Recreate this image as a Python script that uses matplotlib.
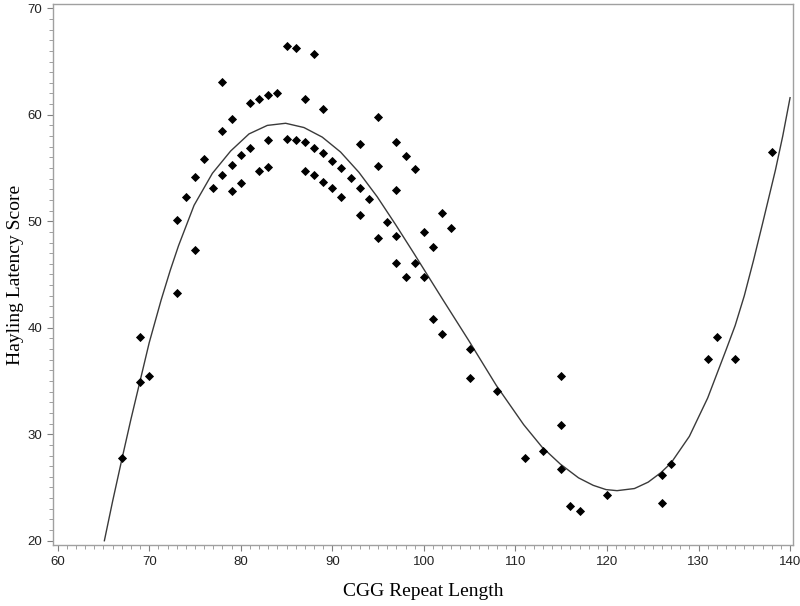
import matplotlib
matplotlib.use('Agg')
import matplotlib.pyplot as plt
import matplotlib.transforms as mtransforms
from matplotlib.ticker import MultipleLocator

# scatter points
cgg = [67, 69, 69, 70, 73, 73, 74, 75, 75, 76, 77, 78, 78, 78, 79, 79, 79,
       80, 80, 81, 81, 82, 82, 83, 83, 83, 84, 85, 85, 86, 86, 87, 87, 87,
       88, 88, 88, 89, 89, 89, 90, 90, 91, 91, 92, 93, 93, 93, 94, 95, 95, 95,
       96, 97, 97, 97, 97, 98, 98, 99, 99, 100, 100, 101, 101, 102, 102, 103,
       105, 105, 108, 111, 113, 115, 115, 115, 116, 117, 120, 126, 126, 127,
       131, 132, 134, 138]
hayling = [27.8, 39.1, 34.9, 35.5, 50.1, 43.3, 52.3, 54.2, 47.3, 55.8, 53.1,
           63.1, 58.5, 54.3, 59.6, 55.3, 52.8, 56.2, 53.6, 61.1, 56.9, 61.5,
           54.7, 61.9, 57.6, 55.1, 62.0, 66.5, 57.7, 66.3, 57.6, 61.5, 57.4,
           54.7, 65.7, 56.9, 54.3, 60.5, 56.4, 53.7, 55.7, 53.1, 55.0, 52.3,
           54.1, 57.3, 53.1, 50.6, 52.1, 59.8, 55.2, 48.4, 49.9, 57.4, 52.9,
           48.6, 46.1, 56.1, 44.8, 54.9, 46.1, 49.0, 44.8, 47.6, 40.8, 50.8,
           39.4, 49.4, 38.0, 35.3, 34.1, 27.8, 28.4, 35.5, 30.9, 26.7, 23.3,
           22.8, 24.3, 26.2, 23.5, 27.2, 37.1, 39.1, 37.1, 56.5]

# fitted curve
fit_x = [65.1, 66, 67, 68, 69, 70, 71.3, 72.3, 73.2, 74.9, 76.9, 78.9, 80.9,
         82.9, 84.9, 86.9, 88.9, 90.9, 92.9, 94.9, 96.9, 98.9, 100.5, 102.1,
         104.9, 107.9, 110.9, 112.9, 114.9, 116.9, 118.5, 119.9, 121.1, 123,
         124.5, 125.9, 127, 129, 131, 133, 134, 135, 136, 137, 138.4, 139.2, 140]
fit_y = [20.0, 23.7, 27.6, 31.4, 35.0, 38.6, 42.6, 45.4, 47.7, 51.5, 54.5,
         56.6, 58.2, 59.0, 59.2, 58.8, 57.9, 56.5, 54.6, 52.3, 49.7, 47.0,
         44.8, 42.6, 38.8, 34.6, 30.9, 28.8, 27.2, 25.9, 25.2, 24.8, 24.7,
         24.9, 25.5, 26.4, 27.3, 29.8, 33.4, 37.9, 40.2, 43.0, 46.3, 49.8,
         54.8, 58.0, 61.6]

fig = plt.figure(figsize=(8, 6.06), dpi=100)
ax = fig.add_axes([0.0666, 0.1007, 0.9243, 0.8927])

ax.plot(fit_x, fit_y, color='#3a3a3a', linewidth=1.0)
ax.plot(cgg, hayling, linestyle='none', marker='D', markersize=4.0,
        color='black', markeredgewidth=0.6)

ax.set_xlim(59.52, 140.29)
ax.set_ylim(19.6, 70.4)
ax.xaxis.set_major_locator(MultipleLocator(10))
ax.xaxis.set_minor_locator(MultipleLocator(1))
ax.yaxis.set_major_locator(MultipleLocator(10))
ax.yaxis.set_minor_locator(MultipleLocator(1))

for s in ax.spines.values():
    s.set_color('#a0a0a0')
    s.set_linewidth(1.0)
ax.tick_params(which='major', direction='out', length=4, width=0.8,
               color='#808080', labelsize=9.5, pad=4)
ax.tick_params(which='minor', direction='out', length=3, width=0.6,
               color='#909090')
fig.canvas.draw()
for lab in ax.get_xticklabels() + ax.get_yticklabels():
    lab.set_family('Liberation Sans')
    lab.set_color('#222222')
# keep the last x label inside the figure
last = ax.get_xticklabels()[-1]
last.set_transform(last.get_transform() +
                   mtransforms.ScaledTranslation(-3 / 72, 0, fig.dpi_scale_trans))

ax.set_xlabel('CGG Repeat Length', family='Liberation Serif', fontsize=14)
ax.set_ylabel('Hayling Latency Score', family='Liberation Serif', fontsize=14)
ax.xaxis.set_label_coords(0.5, -0.071)
ax.yaxis.set_label_coords(-0.040, 0.5)

fig.savefig('out.png', dpi=100)
